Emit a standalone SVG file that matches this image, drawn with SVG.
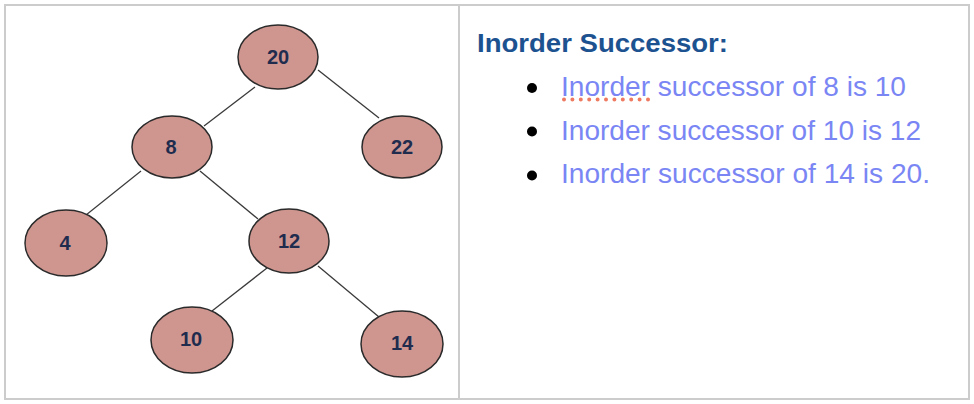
<svg xmlns="http://www.w3.org/2000/svg" width="974" height="404" viewBox="0 0 974 404">
<style>
.frame{fill:none;stroke:#cccccc;stroke-width:2}
.node ellipse{fill:#cf9690;stroke:#2a2a2a;stroke-width:1.5}
.node text{font-family:"Liberation Sans",Arial,sans-serif;font-weight:bold;font-size:20px;fill:#1f2c4e;text-anchor:middle}
.edges line{stroke:#3a3a3a;stroke-width:1.3}
.heading{font-family:"Liberation Sans",Arial,sans-serif;font-weight:bold;font-size:26px;fill:#1d5290}
.item{font-family:"Liberation Sans",Arial,sans-serif;font-size:27px;fill:#7a86f4}
</style>
<rect width="974" height="404" fill="#ffffff"/>
<rect class="frame" x="5" y="5" width="964" height="394"/>
<line class="frame" x1="459" y1="5" x2="459" y2="399"/>
<g class="edges">
<line x1="255" y1="87" x2="204" y2="126"/>
<line x1="318" y1="70" x2="379" y2="118"/>
<line x1="141" y1="171" x2="86" y2="215"/>
<line x1="200" y1="171" x2="258" y2="219"/>
<line x1="267" y1="268" x2="212" y2="311"/>
<line x1="318" y1="266" x2="379" y2="317"/>
</g>
<g id="n20" class="node"><ellipse cx="278" cy="57" rx="40" ry="32"/><text x="278" y="64">20</text></g>
<g id="n8" class="node"><ellipse cx="172" cy="147" rx="40" ry="31"/><text x="171" y="154">8</text></g>
<g id="n22" class="node"><ellipse cx="402" cy="147" rx="40" ry="31"/><text x="402" y="154">22</text></g>
<g id="n4" class="node"><ellipse cx="66" cy="243" rx="41" ry="33"/><text x="65" y="250">4</text></g>
<g id="n12" class="node"><ellipse cx="289" cy="241" rx="40" ry="32"/><text x="289" y="248">12</text></g>
<g id="n10" class="node"><ellipse cx="192" cy="340" rx="41" ry="33"/><text x="191" y="346">10</text></g>
<g id="n14" class="node"><ellipse cx="402" cy="344" rx="41" ry="33"/><text x="402" y="350">14</text></g>
<text class="heading" x="477" y="52" textLength="251" lengthAdjust="spacingAndGlyphs">Inorder Successor:</text>
<g fill="#000000">
<circle cx="532" cy="88" r="5"/>
<circle cx="532" cy="131.5" r="5"/>
<circle cx="532" cy="175.5" r="5"/>
</g>
<text class="item" x="561" y="96" textLength="345" lengthAdjust="spacingAndGlyphs">Inorder successor of 8 is 10</text>
<text class="item" x="561" y="139.5" textLength="360" lengthAdjust="spacingAndGlyphs">Inorder successor of 10 is 12</text>
<text class="item" x="561" y="183" textLength="369" lengthAdjust="spacingAndGlyphs">Inorder successor of 14 is 20.</text>
<line x1="564" y1="99.5" x2="648" y2="99.5" stroke="#ef7a62" stroke-width="4" stroke-linecap="round" stroke-dasharray="0 8.4"/>
</svg>
